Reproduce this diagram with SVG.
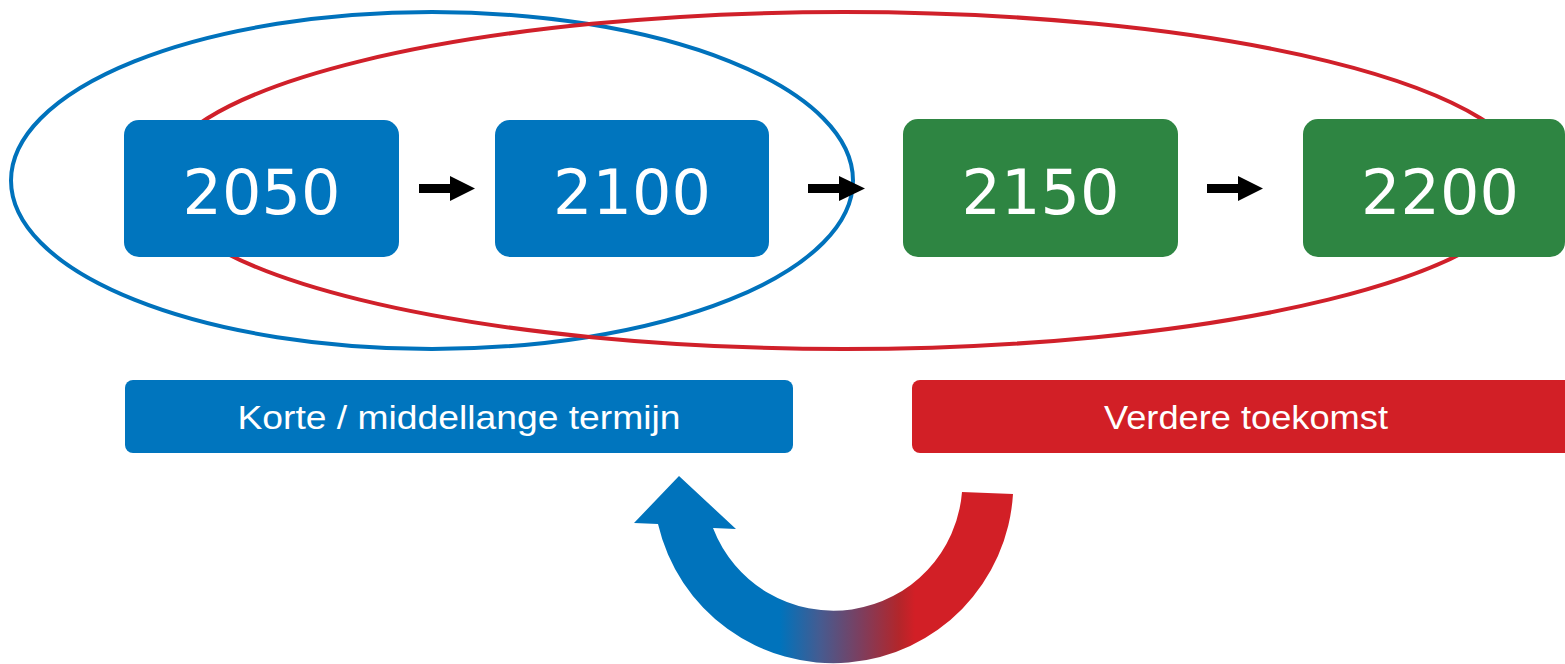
<svg xmlns="http://www.w3.org/2000/svg" width="1565" height="664" viewBox="0 0 1565 664">
<style>
.ell{fill:none;stroke-width:4}
.box{stroke:none}
.blue{fill:#0075BE}
.green{fill:#2E8542}
.red{fill:#D21F26}
.num{font-family:"DejaVu Sans",sans-serif;font-size:62px;fill:#fff;text-anchor:middle}
.lbl{font-family:"Liberation Sans",Arial,sans-serif;font-size:33px;fill:#fff;text-anchor:middle}
.arr{fill:#000}
</style>
<defs>
<linearGradient id="grad" gradientUnits="userSpaceOnUse" x1="780" y1="0" x2="915" y2="0">
<stop offset="0" stop-color="#0073BC"/>
<stop offset="0.3" stop-color="#465B90"/>
<stop offset="0.6" stop-color="#7D3E5E"/>
<stop offset="0.88" stop-color="#B2262B"/>
<stop offset="1" stop-color="#D21F26"/>
</linearGradient>
</defs>
<rect width="1565" height="664" fill="#fff"/>
<g id="ellipses">
<ellipse id="ellipse-blue" class="ell" cx="432" cy="180.5" rx="421" ry="168.5" stroke="#0072BC"/>
<ellipse id="ellipse-red" class="ell" cx="844" cy="180.5" rx="685" ry="168.5" stroke="#D0202A"/>
</g>
<g id="node-2050"><rect class="box blue" x="124" y="120" width="275" height="137" rx="15"/><text class="num" x="261.5" y="214">2050</text></g>
<g id="node-2100"><rect class="box blue" x="495" y="120" width="274" height="137" rx="15"/><text class="num" x="632" y="214">2100</text></g>
<g id="node-2150"><rect class="box green" x="903" y="119" width="275" height="138" rx="15"/><text class="num" x="1040.5" y="214">2150</text></g>
<g id="node-2200"><rect class="box green" x="1303" y="119" width="262" height="138" rx="15"/><text class="num" x="1440" y="214">2200</text></g>
<g id="connectors">
<path class="arr" d="M419 184H450V176L475 188.5L450 201V193H419Z"/>
<path class="arr" d="M808 184H839V176L865 188.5L839 201V193H808Z"/>
<path class="arr" d="M1207 184H1238V176L1263 188.5L1238 201V193H1207Z"/>
</g>
<g id="label-kort"><rect class="blue" x="125" y="380" width="668" height="73" rx="8"/><text class="lbl" x="459" y="429" textLength="443" lengthAdjust="spacingAndGlyphs">Korte / middellange termijn</text></g>
<g id="label-verder"><rect class="red" x="912" y="380" width="668" height="73" rx="8"/><text class="lbl" x="1246" y="429" textLength="284" lengthAdjust="spacingAndGlyphs">Verdere toekomst</text></g>
<g id="cycle-arrow">
<path fill="url(#grad)" d="M1013 494 A180 180 0 0 1 658 524 L634 523 L679 476 L736 529 L713 528 A129 129 0 0 0 962 492 Z"/>
</g>
</svg>
